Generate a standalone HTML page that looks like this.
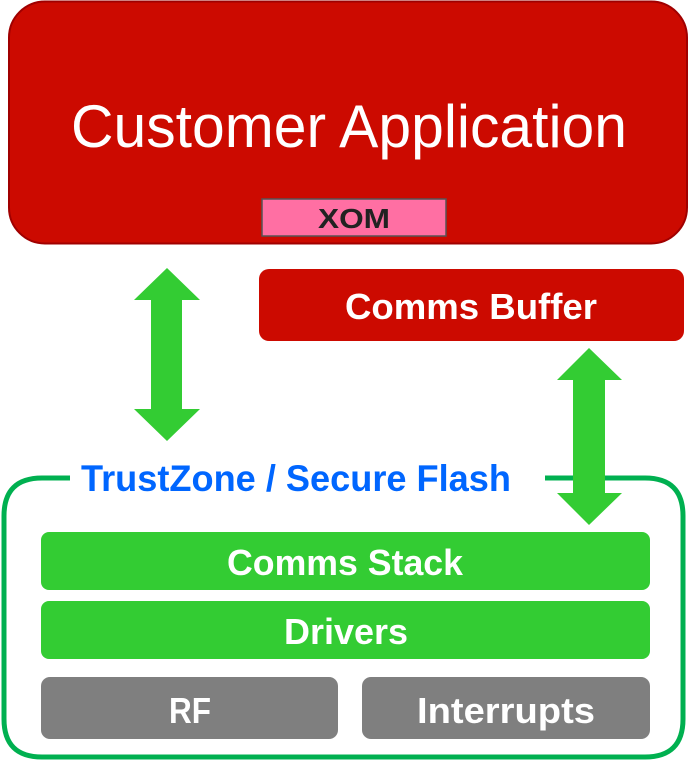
<!DOCTYPE html>
<html><head><style>html,body{margin:0;padding:0;background:#fff;}svg{display:block}</style></head>
<body>
<svg width="689" height="761" viewBox="0 0 689 761" xmlns="http://www.w3.org/2000/svg" font-family="Liberation Sans, sans-serif">
<rect x="9" y="1.5" width="678" height="242" rx="36" fill="#cc0a00" stroke="#a00000" stroke-width="2"/>
<text x="349" y="147" font-size="60" fill="#fff" text-anchor="middle" textLength="556" lengthAdjust="spacingAndGlyphs">Customer Application</text>
<rect x="262" y="199" width="184" height="37" fill="#ff6fa3" stroke="#555" stroke-width="1.5"/>
<text x="354" y="228" font-size="28" font-weight="bold" fill="#222" text-anchor="middle" textLength="72" lengthAdjust="spacingAndGlyphs">XOM</text>
<rect x="259" y="269" width="425" height="72" rx="10" fill="#cc0a00"/>
<text x="471" y="319" font-size="36" font-weight="bold" fill="#fff" text-anchor="middle" textLength="252" lengthAdjust="spacingAndGlyphs">Comms Buffer</text>
<path d="M70 478 H42 Q4 478 4 516 V719 Q4 757 42 757 H645 Q683 757 683 719 V516 Q683 478 645 478 H545" fill="none" stroke="#00b050" stroke-width="5"/>
<text x="296" y="491" font-size="37" font-weight="bold" fill="#0066ff" text-anchor="middle" textLength="430" lengthAdjust="spacingAndGlyphs">TrustZone / Secure Flash</text>
<polygon points="167,268 200,300 182,300 182,409 200,409 167,441 134,409 151,409 151,300 134,300" fill="#33cc33"/>
<polygon points="589,348 622,380 605,380 605,493 622,493 589,525 557,493 573,493 573,380 557,380" fill="#33cc33"/>
<rect x="41" y="532" width="609" height="58" rx="8" fill="#33cc33"/>
<text x="345" y="575" font-size="36" font-weight="bold" fill="#fff" text-anchor="middle" textLength="236" lengthAdjust="spacingAndGlyphs">Comms Stack</text>
<rect x="41" y="601" width="609" height="58" rx="8" fill="#33cc33"/>
<text x="346" y="644" font-size="36" font-weight="bold" fill="#fff" text-anchor="middle" textLength="124" lengthAdjust="spacingAndGlyphs">Drivers</text>
<rect x="41" y="677" width="297" height="62" rx="9" fill="#7f7f7f"/>
<text x="190" y="723" font-size="36" font-weight="bold" fill="#fff" text-anchor="middle" textLength="42" lengthAdjust="spacingAndGlyphs">RF</text>
<rect x="362" y="677" width="288" height="62" rx="9" fill="#7f7f7f"/>
<text x="506" y="723" font-size="36" font-weight="bold" fill="#fff" text-anchor="middle" textLength="178" lengthAdjust="spacingAndGlyphs">Interrupts</text>
</svg>
</body></html>
